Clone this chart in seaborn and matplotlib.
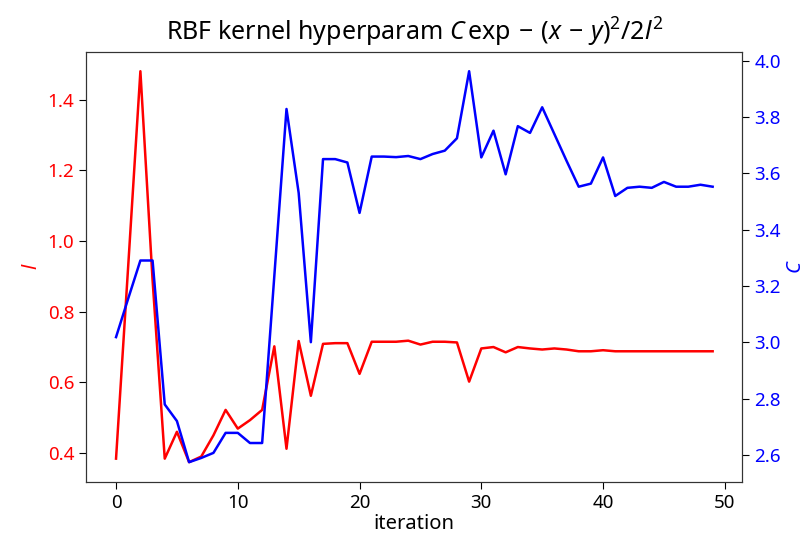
import matplotlib
matplotlib.use("Agg")
import matplotlib.pyplot as plt
import numpy as np
import pandas as pd
import seaborn as sns

# Per-iteration hyperparameter trace of the RBF kernel
iterations = list(range(50))
length_scale = [
    0.384, 0.93, 1.481, 0.89, 0.384, 0.460, 0.374, 0.39, 0.45, 0.522,
    0.469, 0.493, 0.522, 0.702, 0.412, 0.717, 0.562, 0.709, 0.711, 0.711,
    0.624, 0.715, 0.715, 0.715, 0.718, 0.707, 0.715, 0.715, 0.713, 0.602,
    0.696, 0.700, 0.685, 0.700, 0.696, 0.693, 0.696, 0.693, 0.688, 0.688,
    0.691, 0.688, 0.688, 0.688, 0.688, 0.688, 0.688, 0.688, 0.688, 0.688,
]
amplitude = [
    3.019, 3.156, 3.291, 3.291, 2.780, 2.721, 2.575, 2.590, 2.608, 2.679,
    2.679, 2.643, 2.643, 3.236, 3.829, 3.531, 3.001, 3.651, 3.651, 3.639,
    3.460, 3.660, 3.660, 3.658, 3.662, 3.651, 3.669, 3.681, 3.725, 3.963,
    3.657, 3.752, 3.597, 3.768, 3.744, 3.835, 3.740, 3.645, 3.553, 3.564,
    3.657, 3.520, 3.549, 3.553, 3.549, 3.570, 3.553, 3.553, 3.560, 3.553,
]

df = pd.DataFrame({"iteration": iterations, "l": length_scale, "C": amplitude})

plt.rcParams["font.family"] = ["Noto Sans", "DejaVu Sans"]
plt.rcParams["mathtext.fontset"] = "custom"
plt.rcParams["mathtext.rm"] = "Noto Sans"
plt.rcParams["mathtext.it"] = "Noto Sans:italic"
plt.rcParams["mathtext.bf"] = "Noto Sans:bold"

fig = plt.figure(figsize=(8.11, 5.35), dpi=100)
ax = fig.add_axes([0.1063, 0.0996, 0.8092, 0.8038])
ax2 = ax.twinx()

sns.lineplot(data=df, x="iteration", y="l", color="r", lw=1.8, ax=ax)
sns.lineplot(data=df, x="iteration", y="C", color="b", lw=1.8, ax=ax2)

fs = 13.5
ax.set_xticks([0, 10, 20, 30, 40, 50])
ax.set_yticks([0.4, 0.6, 0.8, 1.0, 1.2, 1.4])
ax2.set_yticks([2.6, 2.8, 3.0, 3.2, 3.4, 3.6, 3.8, 4.0])
ax.tick_params(axis="both", labelsize=fs, length=5)
ax.tick_params(axis="y", labelcolor="r")
ax2.tick_params(axis="y", labelcolor="b", labelsize=fs, length=5)
for a in (ax, ax2):
    for s in a.spines.values():
        s.set_color("#333333")

ax.set_xlabel("iteration", fontsize=14.5, labelpad=2)
ax.set_ylabel("$l$", color="r", fontsize=14.5)
ax2.set_ylabel("$C$", color="b", fontsize=14.5)
ax.set_title(r"RBF kernel hyperparam $C\,\exp-\,(x\,-\,y)^2/2l^2$",
             fontsize=18, pad=8)

fig.savefig("out.png", dpi=100)
